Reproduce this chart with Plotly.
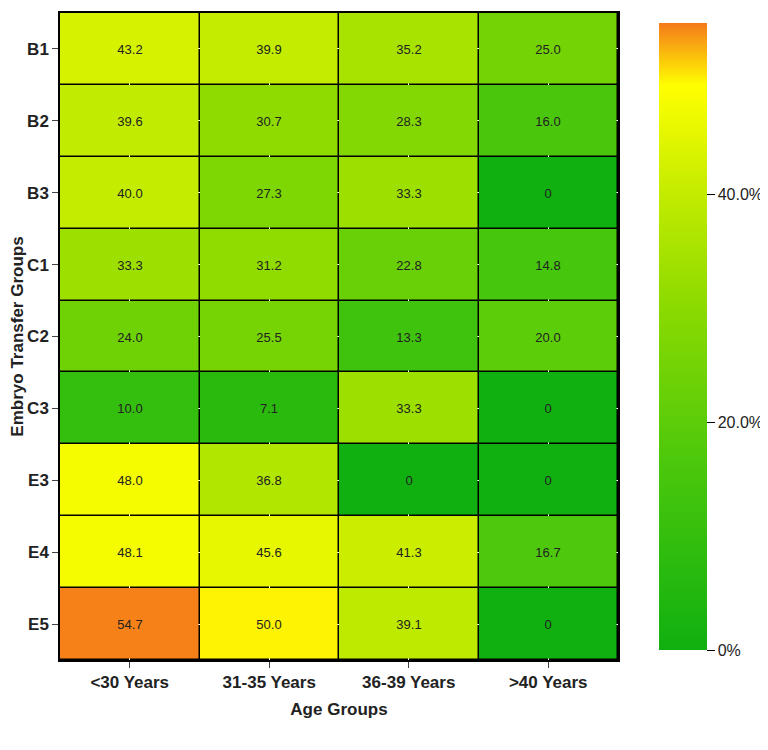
import plotly.graph_objects as go

age_groups = ['<30 Years', '31-35 Years', '36-39 Years', '>40 Years']
transfer_groups = ['B1', 'B2', 'B3', 'C1', 'C2', 'C3', 'E3', 'E4', 'E5']
rates = [
    [43.2, 39.9, 35.2, 25.0],
    [39.6, 30.7, 28.3, 16.0],
    [40.0, 27.3, 33.3, 0],
    [33.3, 31.2, 22.8, 14.8],
    [24.0, 25.5, 13.3, 20.0],
    [10.0, 7.1, 33.3, 0],
    [48.0, 36.8, 0, 0],
    [48.1, 45.6, 41.3, 16.7],
    [54.7, 50.0, 39.1, 0],
]

def label(v):
    return '0' if v == 0 else f'{v:.1f}'

text = [[label(v) for v in row] for row in rates]

colorscale = [
    [0.0, '#10b010'],
    [0.3, '#4cc80c'],
    [0.55, '#8cda00'],
    [0.73, '#c4ec00'],
    [0.9, '#ffff00'],
    [1.0, '#f57a1a'],
]

fig = go.Figure(go.Heatmap(
    z=rates,
    x=age_groups,
    y=transfer_groups,
    text=text,
    texttemplate='%{text}',
    textfont=dict(size=13, color='#222222', family='Arial'),
    colorscale=colorscale,
    zmin=0, zmax=55,
    xgap=1.5, ygap=1.5,
    colorbar=dict(
        tickvals=[0, 20, 40],
        ticktext=['0%', '20.0%', '40.0%'],
        ticks='outside', ticklen=8, tickcolor='black',
        tickfont=dict(size=16, color='#222222', family='Arial'),
        thickness=48, len=1.0, lenmode='fraction', y=0.5, yanchor='middle',
        x=1.055, xanchor='left', outlinewidth=0,
    ),
))

fig.update_layout(
    width=768, height=750,
    margin=dict(l=42, r=156, t=3, b=98),
    plot_bgcolor='black',
    paper_bgcolor='white',
    font=dict(family='Arial', color='#222222'),
    xaxis=dict(
        title=dict(text='<b>Age Groups</b>', font=dict(size=17), standoff=12),
        tickfont=dict(size=17),
        ticks='outside', ticklen=6, showline=True, linecolor='black', linewidth=1.5,
        mirror=True,
        tickprefix='<b>', ticksuffix='</b>',
    ),
    yaxis=dict(
        title=dict(text='<b>Embryo Transfer Groups</b>', font=dict(size=17), standoff=4),
        autorange='reversed',
        tickfont=dict(size=17),
        ticks='outside', ticklen=6, showline=True, linecolor='black', linewidth=1.5,
        mirror=True,
        tickprefix='<b>', ticksuffix='</b>',
    ),
)

fig.write_html('out.html')
